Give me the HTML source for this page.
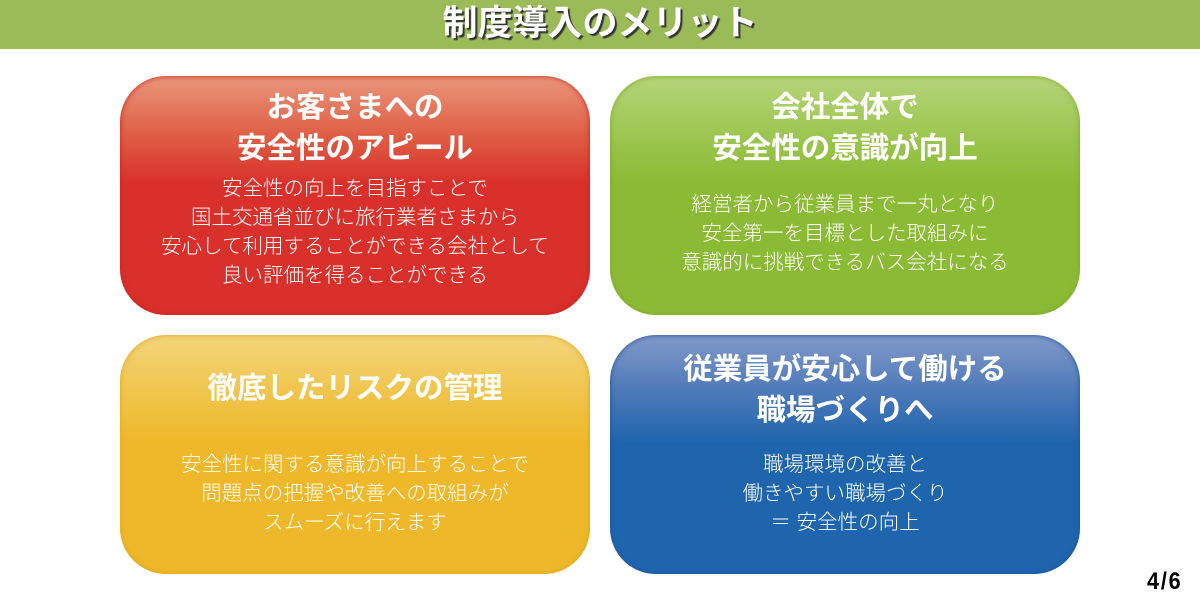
<!DOCTYPE html>
<html><head><meta charset="utf-8"><style>
body{margin:0;width:1200px;height:600px;background:#fff;position:relative;overflow:hidden;font-family:"Liberation Sans","Noto Sans CJK JP",sans-serif;}
.hdr{position:absolute;left:0;top:0;width:1200px;height:49px;background:#9bbb59;}
.hdr div{position:absolute;left:0;width:1200px;top:3px;text-align:center;color:#fff;font-weight:bold;font-size:35px;line-height:42px;letter-spacing:0px;text-shadow:2px 2px 1px #333;}
.box{position:absolute;width:470px;height:239px;border-radius:46px;color:#fff;text-align:center;}
.t{position:absolute;left:0;width:100%;font-weight:bold;font-size:29.5px;line-height:41px;}
.b{position:absolute;left:0;width:100%;font-size:20.5px;line-height:29px;font-weight:300;}
.r{left:120px;top:76px;background:linear-gradient(#e8967b 0%,#df5e45 25%,#d9302b 45%,#d9302b 100%);box-shadow:inset 0 0 6px #c9231f;}
.g{left:610px;top:76px;background:linear-gradient(#b6d47b 0%,#9cc650 25%,#8bbb35 45%,#8bbb35 100%);box-shadow:inset 0 0 6px #7aa82a;}
.y{left:120px;top:335px;background:linear-gradient(#f3d57c 0%,#f0c44a 25%,#eeb82a 45%,#eeb82a 100%);box-shadow:inset 0 0 6px #dda520;}
.bl{left:610px;top:335px;background:linear-gradient(#8399c9 0%,#4a78b8 25%,#1f65ae 45%,#1f65ae 100%);box-shadow:inset 0 0 6px #1a569a;}
.pg{position:absolute;left:1147px;top:568px;font-weight:bold;font-size:24px;letter-spacing:2px;transform:scaleX(0.9);transform-origin:left;}
</style></head><body>
<div class="hdr"><div>制度導入のメリット</div></div>
<div class="box r"><div class="t" style="top:11px">お客さまへの<br>安全性のアピール</div>
<div class="b" style="top:98px">安全性の向上を目指すことで<br>国土交通省並びに旅行業者さまから<br>安心して利用することができる会社として<br>良い評価を得ることができる</div></div>
<div class="box g"><div class="t" style="top:11px">会社全体で<br>安全性の意識が向上</div>
<div class="b" style="top:114px">経営者から従業員まで一丸となり<br>安全第一を目標とした取組みに<br>意識的に挑戦できるバス会社になる</div></div>
<div class="box y"><div class="t" style="top:33px">徹底したリスクの管理</div>
<div class="b" style="top:115px">安全性に関する意識が向上することで<br>問題点の把握や改善への取組みが<br>スムーズに行えます</div></div>
<div class="box bl"><div class="t" style="top:14px">従業員が安心して働ける<br>職場づくりへ</div>
<div class="b" style="top:115px">職場環境の改善と<br>働きやすい職場づくり<br>＝ 安全性の向上</div></div>
<div class="pg">4/6</div>
</body></html>
